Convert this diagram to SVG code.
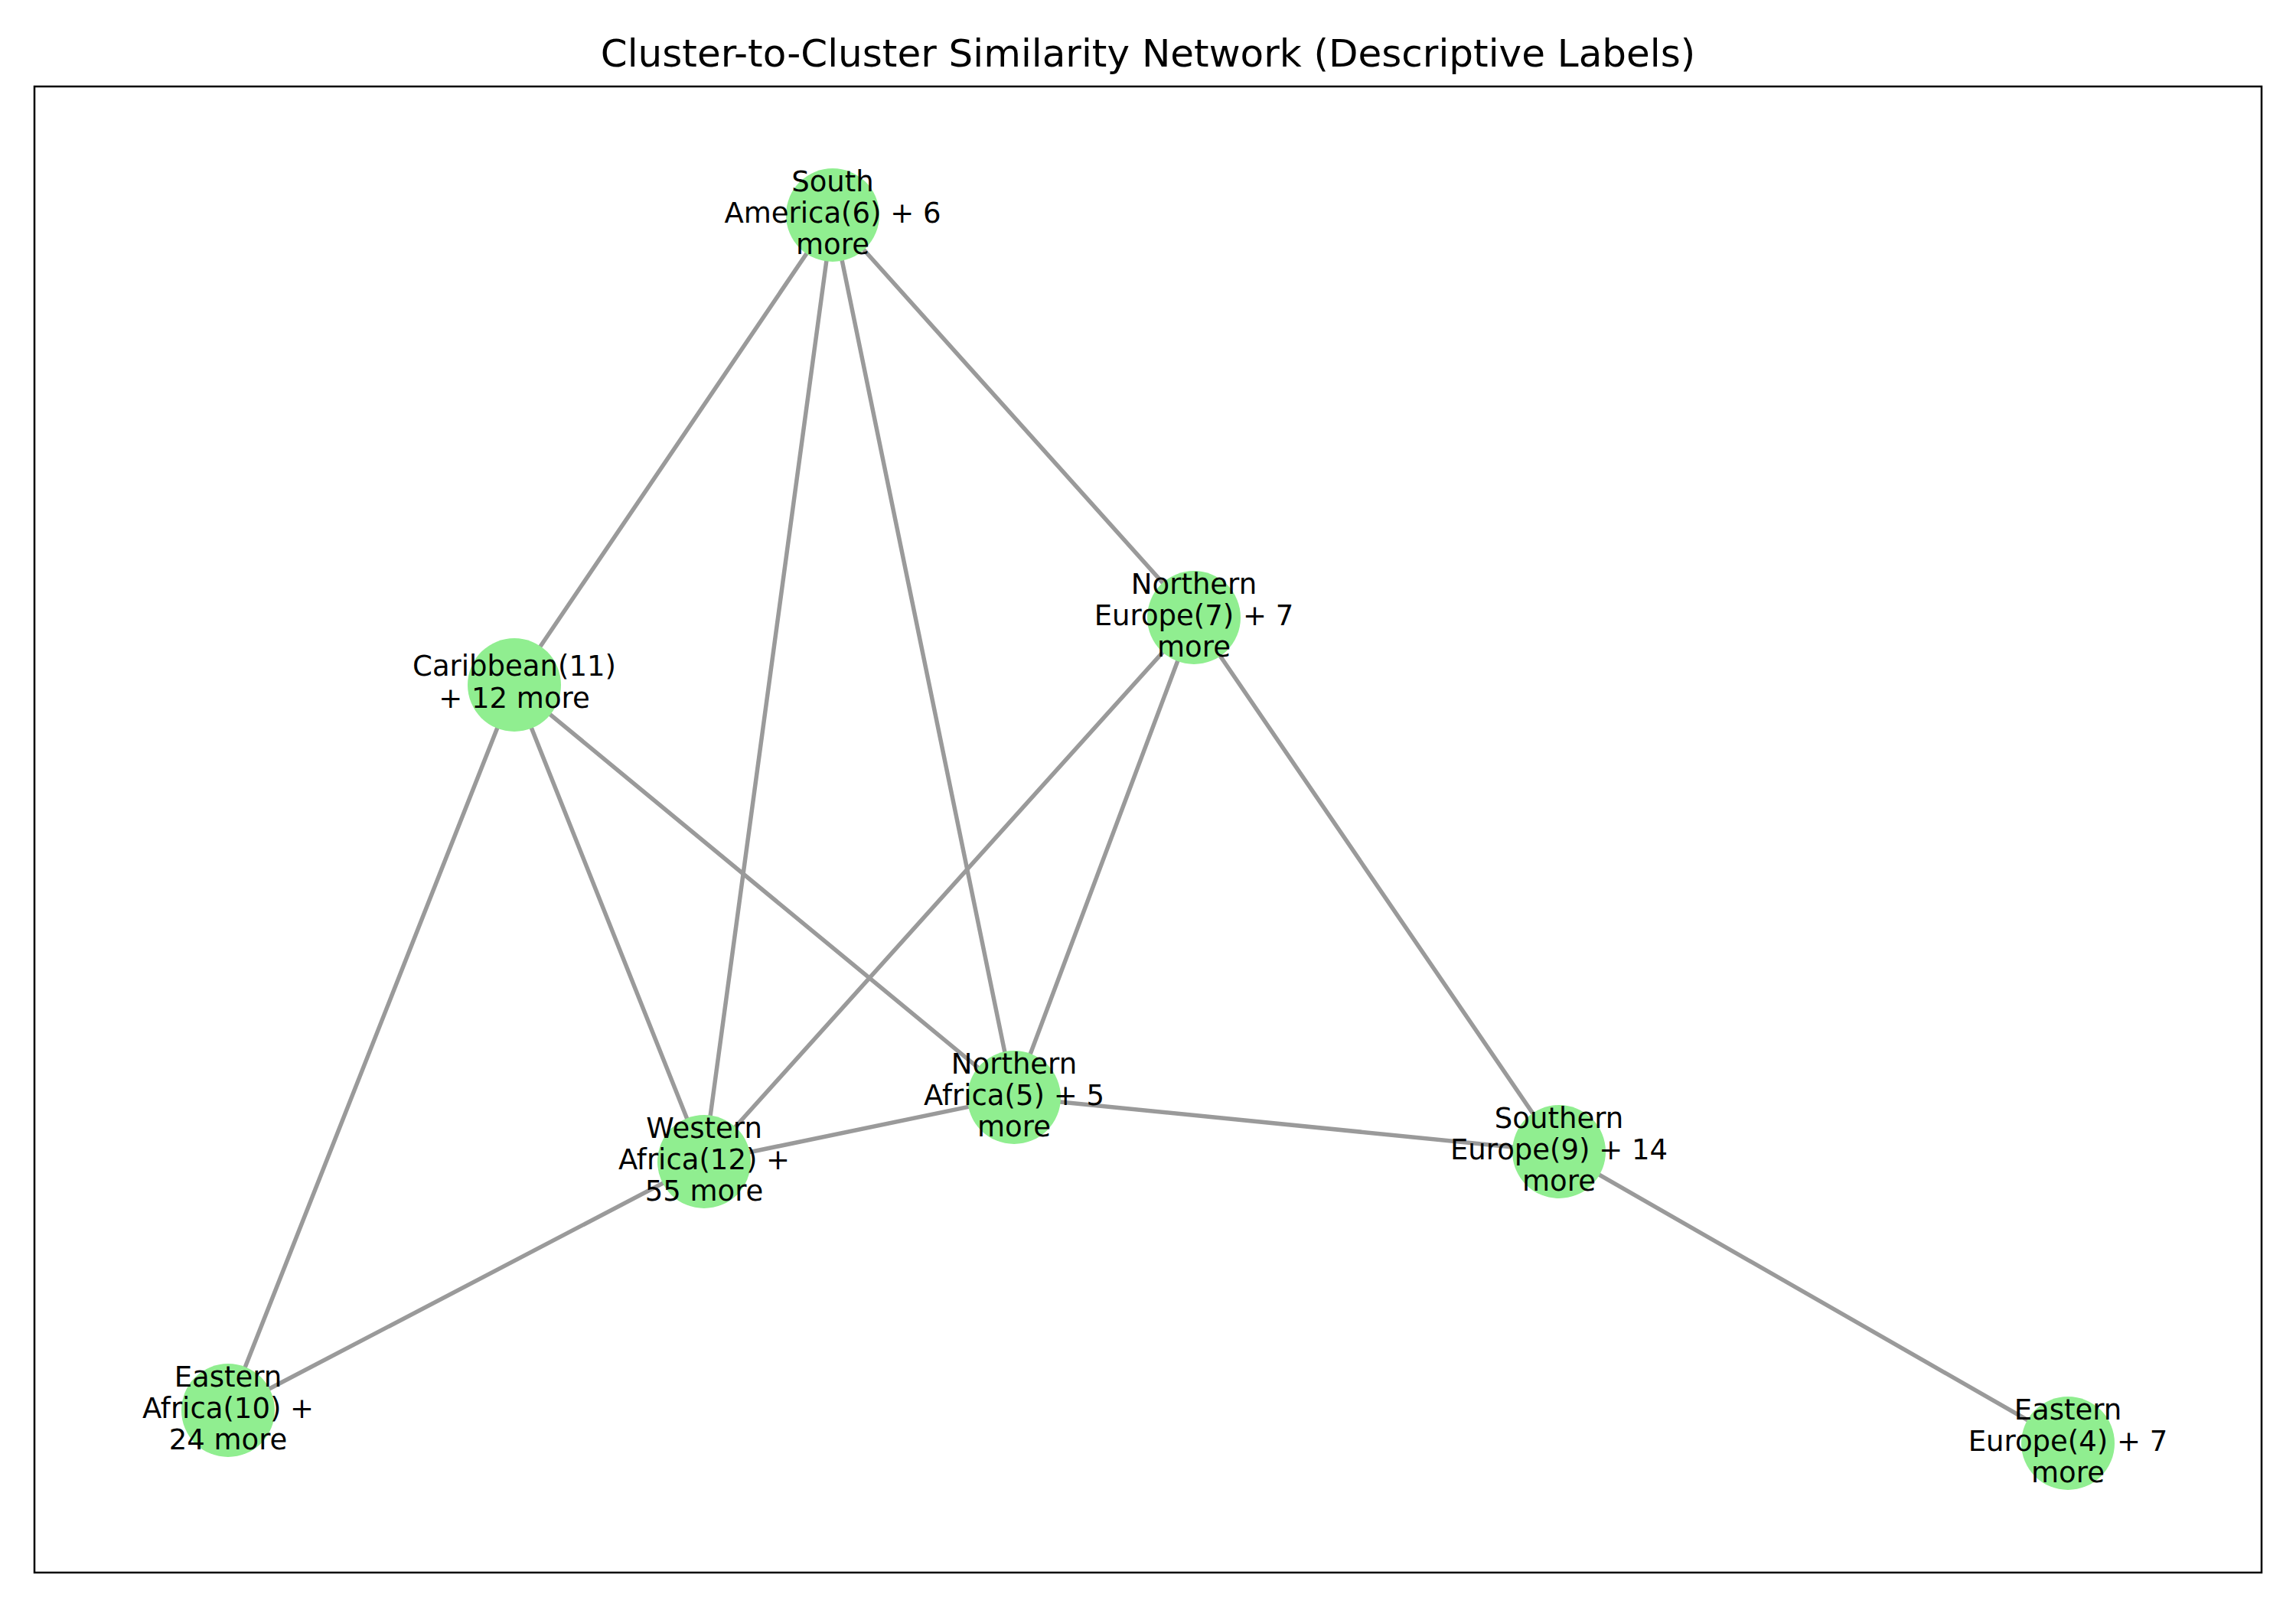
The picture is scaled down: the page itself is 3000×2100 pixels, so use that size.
<svg xmlns="http://www.w3.org/2000/svg" width="3000" height="2100" viewBox="0 0 3000 2100">
<style>
.e{stroke:#9a9a9a;stroke-width:5.5;stroke-linecap:round;fill:none}
.n{fill:#90ee90}
.t{font-family:"DejaVu Sans",sans-serif;font-size:37px;fill:#000;text-anchor:middle}
.title{font-family:"DejaVu Sans",sans-serif;font-size:50px;fill:#000;text-anchor:middle}
</style>
<rect width="3000" height="2100" fill="#fff"/>
<text class="title" x="1500" y="87">Cluster-to-Cluster Similarity Network (Descriptive Labels)</text>
<rect x="45" y="113" width="2910" height="1942" fill="none" stroke="#000" stroke-width="2.5"/>
<g id="edges">
<line class="e" x1="1088" y1="281" x2="672" y2="895"/>
<line class="e" x1="1088" y1="281" x2="920" y2="1518"/>
<line class="e" x1="1088" y1="281" x2="1325" y2="1434"/>
<line class="e" x1="1088" y1="281" x2="1560" y2="807"/>
<line class="e" x1="1560" y1="807" x2="920" y2="1518"/>
<line class="e" x1="1560" y1="807" x2="1325" y2="1434"/>
<line class="e" x1="1560" y1="807" x2="2037" y2="1505"/>
<line class="e" x1="672" y1="895" x2="920" y2="1518"/>
<line class="e" x1="672" y1="895" x2="1325" y2="1434"/>
<line class="e" x1="672" y1="895" x2="298" y2="1843"/>
<line class="e" x1="920" y1="1518" x2="1325" y2="1434"/>
<line class="e" x1="920" y1="1518" x2="298" y2="1843"/>
<line class="e" x1="1325" y1="1434" x2="2037" y2="1505"/>
<line class="e" x1="2037" y1="1505" x2="2702" y2="1886"/>
</g>
<g id="node-south-america"><circle class="n" cx="1088" cy="281" r="61"/><text class="t"><tspan x="1088" y="250">South</tspan><tspan x="1088" y="291">America(6) + 6</tspan><tspan x="1088" y="332">more</tspan></text></g>
<g id="node-northern-europe"><circle class="n" cx="1560" cy="807" r="61"/><text class="t"><tspan x="1560" y="776">Northern</tspan><tspan x="1560" y="817">Europe(7) + 7</tspan><tspan x="1560" y="858">more</tspan></text></g>
<g id="node-caribbean"><circle class="n" cx="672" cy="895" r="61"/><text class="t"><tspan x="672" y="883">Caribbean(11)</tspan><tspan x="672" y="925">+ 12 more</tspan></text></g>
<g id="node-northern-africa"><circle class="n" cx="1325" cy="1434" r="61"/><text class="t"><tspan x="1325" y="1403">Northern</tspan><tspan x="1325" y="1444">Africa(5) + 5</tspan><tspan x="1325" y="1485">more</tspan></text></g>
<g id="node-western-africa"><circle class="n" cx="920" cy="1518" r="61"/><text class="t"><tspan x="920" y="1487">Western</tspan><tspan x="920" y="1528">Africa(12) +</tspan><tspan x="920" y="1569">55 more</tspan></text></g>
<g id="node-southern-europe"><circle class="n" cx="2037" cy="1505" r="61"/><text class="t"><tspan x="2037" y="1474">Southern</tspan><tspan x="2037" y="1515">Europe(9) + 14</tspan><tspan x="2037" y="1556">more</tspan></text></g>
<g id="node-eastern-africa"><circle class="n" cx="298" cy="1843" r="61"/><text class="t"><tspan x="298" y="1812">Eastern</tspan><tspan x="298" y="1853">Africa(10) +</tspan><tspan x="298" y="1894">24 more</tspan></text></g>
<g id="node-eastern-europe"><circle class="n" cx="2702" cy="1886" r="61"/><text class="t"><tspan x="2702" y="1855">Eastern</tspan><tspan x="2702" y="1896">Europe(4) + 7</tspan><tspan x="2702" y="1937">more</tspan></text></g>
</svg>
